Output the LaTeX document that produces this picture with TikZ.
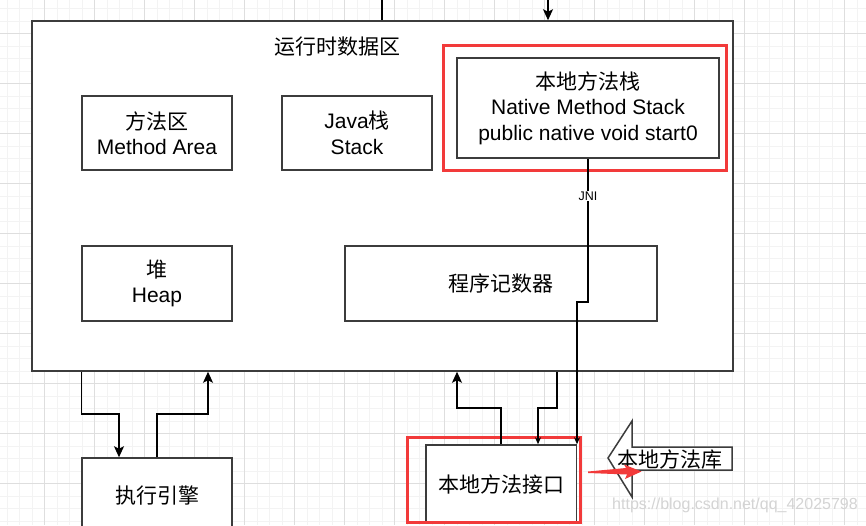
\documentclass[tikz,border=0pt]{standalone}
\usepackage{fontspec}
\setmainfont{Liberation Sans}
\newfontfamily\cjk{Noto Sans CJK SC}
\usetikzlibrary{positioning,arrows.meta}

\definecolor{gridmajor}{RGB}{222,222,222}
\definecolor{gridminor}{RGB}{243,243,243}
\definecolor{edgegray}{RGB}{60,60,60}
\definecolor{hlred}{RGB}{242,58,58}
\definecolor{wmgray}{RGB}{212,212,212}

\tikzset{
  box/.style={draw=edgegray, line width=1.5pt, fill=white, inner sep=0pt,
    align=center, font=\fontsize{21}{25.5}\selectfont},
  hl/.style={draw=hlred, line width=3pt, inner sep=0pt},
  flow/.style={-{Stealth[length=11pt,width=10pt,inset=2.5pt]}, line width=1.3pt},
  flowsmall/.style={-{Stealth[length=7pt,width=6pt]}, line width=1.3pt},
  jni/.style={fill=white, inner sep=1pt, font=\fontsize{12.5}{14}\selectfont},
}

\begin{document}
\begin{tikzpicture}[x=1pt,y=-1pt,node distance=150pt,on grid]
  \useasboundingbox (0,0) rectangle (866,525);
  \clip (0,0) rectangle (866,525);
  \fill[white] (0,0) rectangle (866,525);
  % grid
  \foreach \i in {0,...,69}
    \draw[gridminor] ({6.8+12.5*\i},0) -- ++(0,525);
  \foreach \i in {0,...,43}
    \draw[gridminor] (0,{-4.2+12.5*\i}) -- ++(866,0);
  \foreach \i in {0,...,17}
    \draw[gridmajor] ({44.3+50*\i},0) -- ++(0,525);
  \foreach \i in {0,...,10}
    \draw[gridmajor] (0,{33.3+50*\i}) -- ++(866,0);

  % runtime data area
  \node[box, minimum width=701, minimum height=350] (rt) at (382.5,196) {};
  \node[font=\fontsize{21}{25.5}\selectfont\cjk] (rt_title) at (337.5,47) {运行时数据区};
  \node[box, minimum width=150, minimum height=74] (m_area) at (157,133)
    {{\cjk 方法区}\\Method Area};
  \node[box, minimum width=150, minimum height=74] (j_stack) [right=200pt of m_area]
    {Java{\cjk 栈}\\Stack};
  \node[box, minimum width=262, minimum height=100] (n_stack) at (588,108)
    {{\cjk 本地方法栈}\\Native Method Stack\\public native void start0};
  \node[hl, minimum width=283, minimum height=125] (n_stack_hl) at (584.5,107.5) {};
  \node[box, minimum width=150, minimum height=75] (heap) [below=150.5pt of m_area]
    {{\cjk 堆}\\Heap};
  \node[box, minimum width=312, minimum height=75] (pc) [right=344pt of heap]
    {{\cjk 程序记数器}};

  % outside
  \node[box, minimum width=150, minimum height=75] (engine) [below=362.5pt of m_area]
    {{\cjk 执行引擎}};
  \node[box, minimum width=150.5, minimum height=78] (n_if) at (501,484)
    {{\cjk 本地方法接口}};
  \node[hl, minimum width=173, minimum height=85] (n_if_hl) at (493.5,479.5) {};

  \coordinate (e_down) at (119,414);
  \coordinate (e_up) at (208,414);
  \coordinate (n_up) at (457,408);
  \coordinate (n_in) at (557,408);
  \coordinate (n_down) at (538,408);
  \coordinate (jni_bend) at (588,302);
  \coordinate (top_a) at (382,0);
  \coordinate (top_b) at (548,0);

  \draw[flow] (engine.west |- rt.south) |- (e_down) -- (e_down |- engine.north);
  \draw[flow] (engine.north) |- (e_up) -- (e_up |- rt.south);
  \draw[flow] (n_if.north) |- (n_up) -- (n_up |- rt.south);
  \draw[flowsmall] (n_in |- rt.south) |- (n_down) -- (n_down |- n_if.north);
  \draw[flowsmall] (n_stack.south) -- node[jni, pos=0.26] (jni_label) {JNI} (jni_bend)
    -| (n_if.north east);
  \draw[line width=1.3pt] (top_a) -- (top_a |- rt.north);
  \draw[flow] (top_b) -- (top_b |- rt.north);

  % native library
  \draw[draw=edgegray, line width=1.5pt, fill=white]
    (608,458) -- (632,421) -- (632,447) -- (732,447) -- (732,470)
    -- (632,470) -- (632,497) -- cycle;
  \node[font=\fontsize{21}{25.5}\selectfont\cjk] (lib) at (669.5,459) {本地方法库};
  \fill[hlred] (588,471.5) -- (626,468) -- (624,464.5) -- (641.5,471.5)
    -- (625,479) -- (627,474.5) -- (588,473) -- cycle;

  \node[text=wmgray, font=\fontsize{16}{18}\selectfont] (wm) at (735,505)
    {https://blog.csdn.net/qq\_42025798};
\end{tikzpicture}
\end{document}
